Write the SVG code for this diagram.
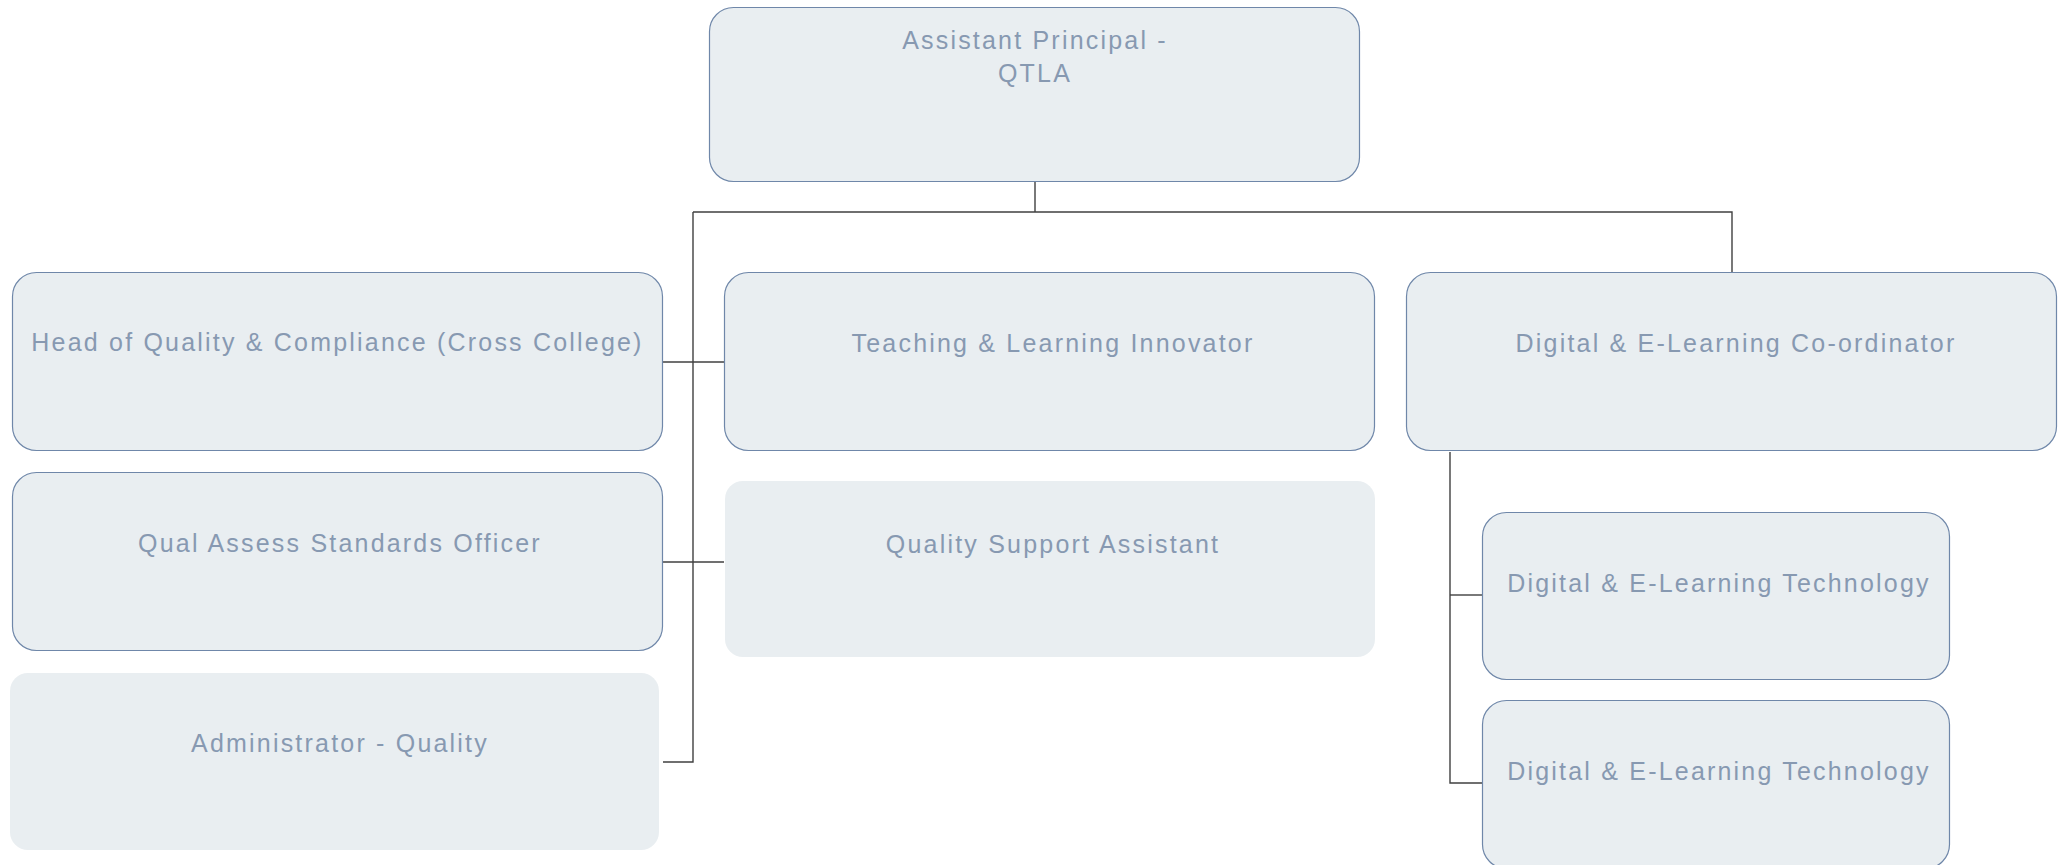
<svg xmlns="http://www.w3.org/2000/svg" width="2067" height="865" viewBox="0 0 2067 865">
<style>
.box{fill:#e9eef1;stroke:#6f87a9;stroke-width:1.2}
.flat{fill:#e9eef1;stroke:none}
.lbl{font-family:"Liberation Sans",Arial,sans-serif;font-size:25px;letter-spacing:2.2px;fill:#8799b1;text-anchor:middle}
.conn{fill:none;stroke:#404040;stroke-width:1.4}
</style>
<rect width="2067" height="865" fill="#ffffff"/>
<g id="connectors">
<path class="conn" d="M1035,182 V212"/>
<path class="conn" d="M693,212 H1732 V272"/>
<path class="conn" d="M693,212 V762 H663"/>
<path class="conn" d="M663,362 H724"/>
<path class="conn" d="M663,562 H724"/>
<path class="conn" d="M1450,452 V783 H1482"/>
<path class="conn" d="M1450,595 H1482"/>
</g>
<g id="n-assistant-principal">
<rect class="box" x="709.5" y="7.5" width="650" height="174" rx="24"/>
<text class="lbl" x="1035" y="49">Assistant Principal -</text>
<text class="lbl" x="1035" y="82">QTLA</text>
</g>
<g id="n-head-quality">
<rect class="box" x="12.5" y="272.5" width="650" height="178" rx="24"/>
<text class="lbl" x="337.5" y="351">Head of Quality &amp; Compliance (Cross College)</text>
</g>
<g id="n-teaching-learning">
<rect class="box" x="724.5" y="272.5" width="650" height="178" rx="24"/>
<text class="lbl" x="1053" y="352">Teaching &amp; Learning Innovator</text>
</g>
<g id="n-digital-coordinator">
<rect class="box" x="1406.5" y="272.5" width="650" height="178" rx="24"/>
<text class="lbl" x="1736" y="352">Digital &amp; E-Learning Co-ordinator</text>
</g>
<g id="n-qual-assess">
<rect class="box" x="12.5" y="472.5" width="650" height="178" rx="24"/>
<text class="lbl" x="340" y="552">Qual Assess Standards Officer</text>
</g>
<g id="n-quality-support">
<rect class="flat" x="725" y="481" width="650" height="176" rx="18"/>
<text class="lbl" x="1053" y="553">Quality Support Assistant</text>
</g>
<g id="n-administrator">
<rect class="flat" x="10" y="673" width="649" height="177" rx="18"/>
<text class="lbl" x="340" y="752">Administrator - Quality</text>
</g>
<g id="n-det-1">
<rect class="box" x="1482.5" y="512.5" width="467" height="167" rx="24"/>
<text class="lbl" x="1719" y="592">Digital &amp; E-Learning Technology</text>
</g>
<g id="n-det-2">
<rect class="box" x="1482.5" y="700.5" width="467" height="168" rx="24"/>
<text class="lbl" x="1719" y="780">Digital &amp; E-Learning Technology</text>
</g>
</svg>
